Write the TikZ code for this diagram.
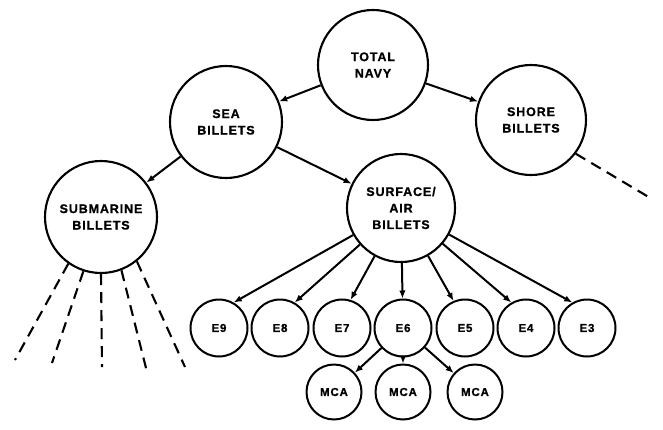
\documentclass[tikz,border=0pt]{standalone}
\usepackage{fontspec}
\setmainfont{Liberation Sans}[LetterSpace=6]
\newfontfamily\lblfont{Liberation Sans Bold}[LetterSpace=7,FakeBold=1]
\usetikzlibrary{arrows.meta}
\begin{document}
\begin{tikzpicture}[x=1pt,y=-1pt,
  big/.style={circle,draw,line width=2.1pt,inner sep=0pt,align=center,
    font=\lblfont\fontsize{12.5}{16.5}\selectfont},
  small/.style={circle,draw,line width=2pt,inner sep=0pt,
    font=\lblfont\fontsize{11.5}{13}\selectfont},
  arr/.style={line width=2pt,-{Latex[length=8pt,width=6.5pt]}},
  dsh/.style={line width=2.1pt,dash pattern=on 11pt off 7pt}]
\useasboundingbox (0,0) rectangle (663,429);
\node[big,minimum size=110pt] (total) at (373,65) {TOTAL\\NAVY};
\node[big,minimum size=112pt] (sea) at (226,122) {SEA\\BILLETS};
\node[big,minimum size=110pt] (shore) at (531,120) {SHORE\\BILLETS};
\node[big,minimum size=112pt] (sub) at (101,217) {SUBMARINE\\BILLETS};
\node[big,minimum size=108pt] (surf) at (401,208) {SURFACE/\\AIR\\BILLETS};
\foreach \n/\x in {9/219,8/280,7/342,6/403,5/465,4/526,3/587}
  \node[small,minimum size=57pt] (e\n) at (\x,328) {E\n};
\node[small,minimum size=55pt] (m1) at (334,392) {MCA};
\node[small,minimum size=55pt] (m2) at (403,392) {MCA};
\node[small,minimum size=55pt] (m3) at (475,392) {MCA};
\draw[arr] (total) -- (sea);
\draw[arr] (total) -- (shore);
\draw[arr] (sea) -- (sub);
\draw[arr] (sea) -- (surf);
\draw[arr] (surf) -- (e9.60);
\draw[arr] (surf) -- (e8.60);
\draw[arr] (surf) -- (e7.73);
\draw[arr] (surf) -- (e6);
\draw[arr] (surf) -- (e5.113);
\draw[arr] (surf) -- (e4.120);
\draw[arr] (surf) -- (e3.120);
\draw[arr] (e6) -- (m1);
\draw[arr] (e6) -- (m2);
\draw[arr] (e6) -- (m3);
\coordinate (d1) at (15,360);
\coordinate (d2) at (52,363);
\coordinate (d3) at (102,367);
\coordinate (d4) at (147,372);
\coordinate (d5) at (185,367);
\coordinate (d6) at (652,199);
\draw[dsh] (sub.-125) -- (d1);
\draw[dsh] (sub.-108) -- (d2);
\draw[dsh] (sub.-90) -- (d3);
\draw[dsh] (sub.-69) -- (d4);
\draw[dsh] (sub.-51) -- (d5);
\draw[dsh] (shore.-37) -- (d6);
\end{tikzpicture}
\end{document}
